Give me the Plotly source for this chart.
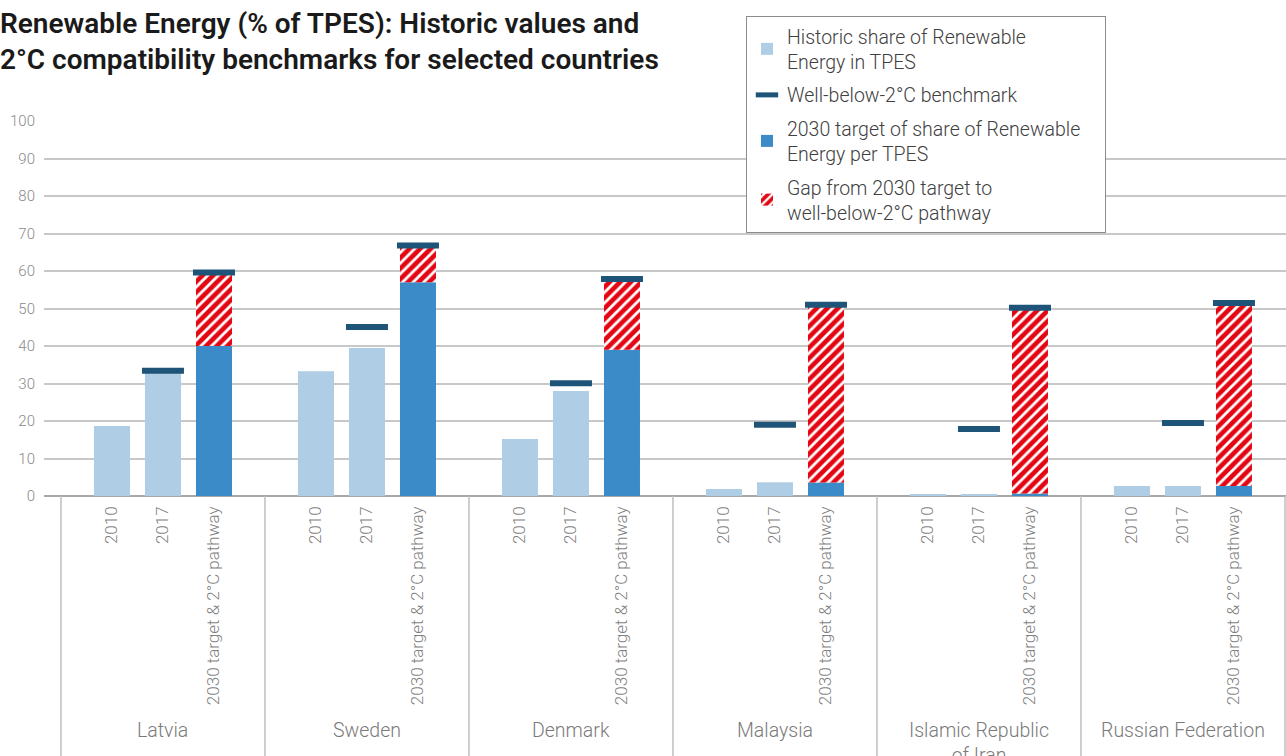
import plotly.graph_objects as go

# ---- data ----
countries = ["Latvia", "Sweden", "Denmark", "Malaysia",
             "Islamic Republic<br>of Iran", "Russian Federation"]
bar_labels = ["2010", "2017", "2030 target & 2°C pathway"]
hist_2010 = [18.7, 33.3, 15.2, 1.9, 0.5, 2.7]
hist_2017 = [32.9, 39.5, 28.0, 3.7, 0.5, 2.7]
bench_2017 = [33.4, 45.1, 30.1, 19.0, 17.9, 19.5]
target_2030 = [40.0, 57.0, 39.0, 3.6, 0.7, 2.7]
bench_2030 = [59.6, 66.8, 57.9, 51.0, 50.2, 51.5]
y_ticks = [0, 10, 20, 30, 40, 50, 60, 70, 80, 90, 100]

# ---- layout helpers ----
n = len(countries)
SLOT = 4  # each country occupies 4 units, separators at multiples of 4
pos_2010 = [SLOT * g + 1 for g in range(n)]
pos_2017 = [SLOT * g + 2 for g in range(n)]
pos_2030 = [SLOT * g + 3 for g in range(n)]
BW = 0.706

C_HIST = "#AFCEE5"
C_TARGET = "#3A8BC7"
C_BENCH = "#1F5479"
C_RED = "#E30713"
FONT = "Roboto"
PAD = "\u00a0" * 4

fig = go.Figure()

fig.add_trace(go.Bar(
    x=pos_2010 + pos_2017, y=hist_2010 + hist_2017, width=BW,
    marker=dict(color=C_HIST, line=dict(width=0)),
    name="Historic share of Renewable<br>Energy in TPES", legendrank=1,
    legendgroup="a",
))
fig.add_trace(go.Bar(
    x=pos_2030, y=target_2030, width=BW,
    marker=dict(color=C_TARGET, line=dict(width=0)),
    name="2030 target of share of Renewable" + PAD + "<br>Energy per TPES",
    legendrank=3, legendgroup="c",
))
fig.add_trace(go.Bar(
    x=pos_2030, y=[b - t for b, t in zip(bench_2030, target_2030)],
    base=target_2030, width=BW,
    marker=dict(color=C_RED, line=dict(width=0),
                pattern=dict(shape="/", fgcolor="white", bgcolor=C_RED,
                             size=7.5, solidity=0.38, fillmode="replace")),
    name="Gap from 2030 target to<br>well-below-2°C pathway", legendrank=4,
    legendgroup="d",
))
fig.add_trace(go.Scatter(
    x=pos_2017 + pos_2030, y=bench_2017 + bench_2030, mode="markers",
    marker=dict(symbol="line-ew", size=30, color=C_BENCH,
                line=dict(width=6, color=C_BENCH)),
    name="Well-below-2°C benchmark", legendrank=2, legendgroup="b",
))

# group separators below the axis
for g in range(n + 1):
    fig.add_shape(type="line", xref="x", yref="paper",
                  x0=SLOT * g, x1=SLOT * g, y0=0, y1=-0.75,
                  line=dict(color="#BEBEBE", width=1.5))

# country labels
for g, c in enumerate(countries):
    fig.add_annotation(x=SLOT * g + 2, xref="x", y=-0.589, yref="paper",
                       text=c, showarrow=False, yanchor="top",
                       font=dict(family=FONT, size=19.5, color="#7A7A7A", weight=300))

tickvals, ticktext = [], []
for g in range(n):
    for p, lab in zip((pos_2010[g], pos_2017[g], pos_2030[g]), bar_labels):
        tickvals.append(p)
        ticktext.append(lab)

fig.update_layout(
    width=1286, height=756,
    margin=dict(l=44, r=0, t=121, b=260, autoexpand=False),
    paper_bgcolor="white", plot_bgcolor="white",
    barmode="overlay",
    title=dict(
        text="Renewable Energy (% of TPES): Historic values and<br>2°C compatibility benchmarks for selected countries",
        x=0, xref="container", xanchor="left",
        y=0.957, yref="container", yanchor="top",
        font=dict(family=FONT, size=28, color="#1A1A1A", weight=600),
    ),
    xaxis=dict(range=[-0.333, 24.02], tickvals=tickvals, ticktext=ticktext,
               tickangle=-90, showgrid=False, zeroline=False,
               showline=False, ticks="", ticklabelstandoff=6,
               tickfont=dict(family=FONT, size=17, color="#7F7F7F", weight=300)),
    yaxis=dict(range=[0, 100], tickvals=y_ticks, showgrid=True,
               gridcolor="#C8C8C8", gridwidth=1.5,
               zeroline=True, zerolinecolor="#A8A8A8", zerolinewidth=1.5,
               ticks="", ticklabelstandoff=8,
               tickfont=dict(family=FONT, size=15, color="#8A8A8A", weight=300)),
    legend=dict(x=0.5652, y=1.28, xanchor="left", yanchor="top",
                bgcolor="white", bordercolor="#8C8C8C", borderwidth=1,
                font=dict(family=FONT, size=19.5, color="#404040", weight=300),
                tracegroupgap=5, traceorder="grouped"),
    showlegend=True,
)

fig.write_html("out.html", config={"displayModeBar": False},
               post_script="document.body.style.margin='0px';")
